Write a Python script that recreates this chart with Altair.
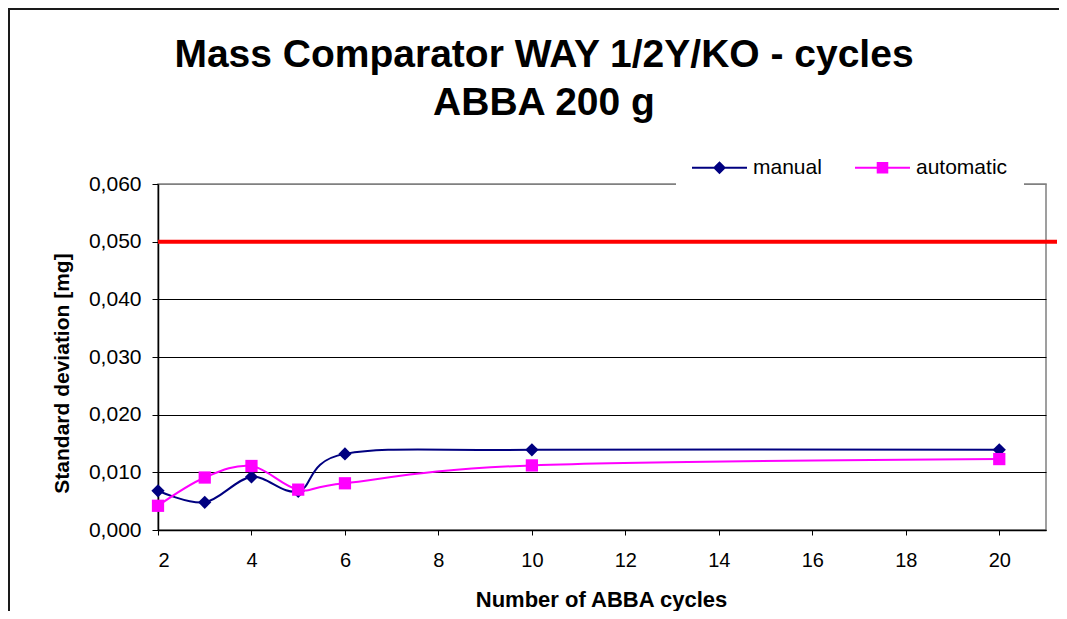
import altair as alt
import pandas as pd

# ---- data ----
cycles = [2, 3, 4, 5, 6, 10, 20]
manual = [0.0068, 0.0048, 0.0092, 0.0067, 0.0132, 0.0139, 0.0139]
automatic = [0.0042, 0.0091, 0.0111, 0.0070, 0.0081, 0.0112, 0.0123]
series_names = ["manual", "automatic"]
series_colors = ["#000080", "#FF00FF"]
series_markers = ["diamond", "square"]
marker_sizes = [175, 150]
limit_value = [0.050]
x_ticks = [2, 4, 6, 8, 10, 12, 14, 16, 18, 20]
y_ticks = [0.0, 0.01, 0.02, 0.03, 0.04, 0.05, 0.06]
title_lines = ["Mass Comparator WAY 1/2Y/KO - cycles", "ABBA 200 g"]

df = pd.DataFrame({
    "cycles": cycles * 2,
    "value": manual + automatic,
    "series": [series_names[0]] * len(cycles) + [series_names[1]] * len(cycles),
})
limit_df = pd.DataFrame({"limit": limit_value})

FONT = "Liberation Sans"
W, H = 888, 346

# legend symbols: a thin bar (the line) with the marker in its middle (Excel style)
legend_paths = [
    "M-1,-0.036L1,-0.036L1,0.036L-1,0.036ZM-0.236,0L0,-0.236L0.236,0L0,0.236Z",
    "M-1,-0.036L1,-0.036L1,0.036L-1,0.036ZM-0.21,-0.21L0.21,-0.21L0.21,0.21L-0.21,0.21Z",
]

x_enc = alt.X(
    "cycles:Q",
    scale=alt.Scale(domain=[2, 21], nice=False, zero=False),
    axis=alt.Axis(
        values=x_ticks, format="d", title="Number of ABBA cycles", grid=False,
        tickSize=5, labelPadding=15, labelFontSize=20, labelFont=FONT, labelColor="#000",
        titleFontSize=22, titleFont=FONT, titleFontWeight="bold", titleColor="#000",
        titleX=443, titleY=76, titleBaseline="alphabetic", titleAlign="center",
        domainColor="#000", domainWidth=1.5, tickColor="#000", tickWidth=1,
    ),
)
y_enc = alt.Y(
    "value:Q",
    scale=alt.Scale(domain=[0, 0.06], nice=False, zero=True),
    axis=alt.Axis(
        values=y_ticks, title="Standard deviation [mg]",
        labelExpr="replace(format(datum.value, '.3f'), '.', ',')",
        grid=True,
        gridColor={"condition": {"test": "datum.value >= 0.06", "value": "#808080"}, "value": "#000000"},
        gridWidth=1,
        tickSize=6, labelPadding=11, labelFontSize=21, labelFont=FONT, labelColor="#000",
        titleFontSize=21, titleFont=FONT, titleFontWeight="bold", titleColor="#000",
        titleAngle=270, titleX=-90, titleY=189, titleAlign="center", titleBaseline="alphabetic",
        domainColor="#000", domainWidth=1.5, tickColor="#000", tickWidth=1,
    ),
)

series_layers = []
for name, col, mk, sz in zip(series_names, series_colors, series_markers, marker_sizes):
    base = alt.Chart(df).transform_filter(alt.datum.series == name)
    series_layers.append(
        base.mark_line(interpolate="cardinal", strokeWidth=2, color=col).encode(x=x_enc, y=y_enc)
    )
    series_layers.append(
        base.mark_point(filled=True, shape=mk, size=sz, opacity=1, color=col).encode(
            x="cycles:Q", y="value:Q"
        )
    )

leg = alt.Legend(
    title=None, orient="none", legendX=518, legendY=-60, direction="horizontal",
    fillColor="white", padding=16, symbolSize=3025, symbolStrokeWidth=0,
    labelFontSize=21, labelFont=FONT, labelColor="#000", labelOffset=6, columnPadding=33,
)
# legend-only layer: its marks are moved far below the plot and clipped away
legend_layer = alt.Chart(df).transform_calculate(
    hidden="datum.value - 1"
).mark_point(filled=True, opacity=1, clip=True).encode(
    x="cycles:Q", y=alt.Y("hidden:Q"),
    color=alt.Color("series:N", scale=alt.Scale(domain=series_names, range=series_colors), legend=leg),
    shape=alt.Shape("series:N", scale=alt.Scale(domain=series_names, range=legend_paths), legend=leg),
)

limit_rule = alt.Chart(limit_df).mark_rule(color="#FF0000", strokeWidth=4, clip=False).encode(
    y="limit:Q", x=alt.value(0), x2=alt.value(W + 11)
)

frame_left = alt.Chart(limit_df).mark_rule(color="#1a1a1a", strokeWidth=2, clip=False).encode(
    x=alt.value(-149), y=alt.value(-176), y2=alt.value(H + 81)
)
frame_top = alt.Chart(limit_df).mark_rule(color="#1a1a1a", strokeWidth=2, clip=False).encode(
    x=alt.value(-150), x2=alt.value(W + 13), y=alt.value(-175)
)

chart = alt.layer(
    frame_left, frame_top, limit_rule, *series_layers, legend_layer
).properties(
    width=W, height=H,
    autosize=alt.AutoSizeParams(type="none"),
    padding={"left": 150, "top": 176, "right": 13, "bottom": 81},
    title=alt.Title(
        title_lines, fontSize=39, font=FONT, fontWeight="bold", color="#000",
        anchor="middle", frame="group", dx=-58, dy=120, lineHeight=48,
    ),
).configure(background="white").configure_view(
    stroke="#808080", strokeWidth=1.5
)

chart.save("out.html", embed_options={"renderer": "svg", "actions": False})
